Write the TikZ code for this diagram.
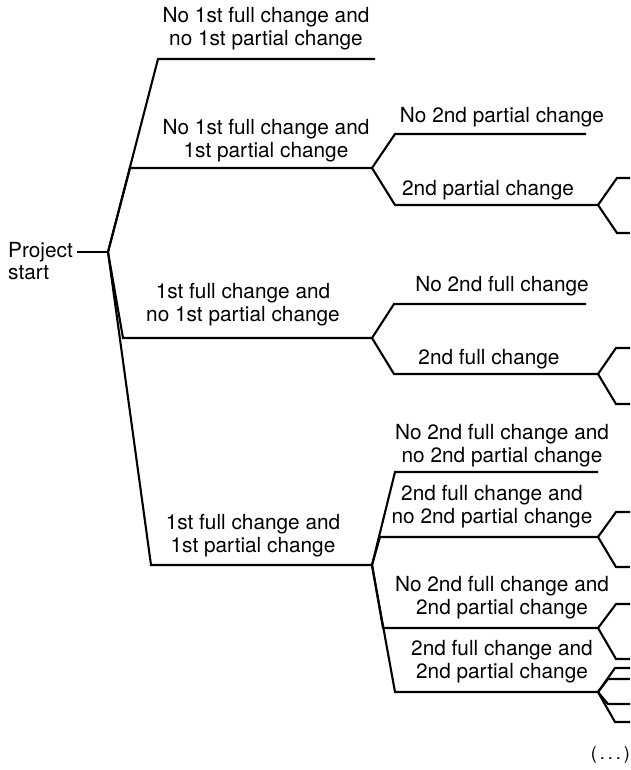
\documentclass[tikz,border=0pt]{standalone}
\usepackage{fontspec}
\setmainfont{TeX Gyre Heros}
\begin{document}
\begin{tikzpicture}[x=1pt,y=-1pt,
  edge/.style={line width=2.1pt, line join=miter},
  txt/.style={font=\fontsize{20.8}{22.5}\selectfont, inner sep=0pt},
  lab/.style={txt, align=center, anchor=south}]
\useasboundingbox (0,0) rectangle (630,770);

% root
\node[txt, align=left, anchor=north west] (root) at (8,242) {Project\\start};
\coordinate (rs) at (77,252);
\coordinate (r) at (108,252);
\draw[edge] (rs) -- (r);

% first stage: four outcomes
\coordinate (a1) at (158,59);  \coordinate (a1e) at (375,59);
\coordinate (a2) at (130,168); \coordinate (b) at (372,168);
\coordinate (a3) at (123,338); \coordinate (c) at (372,338);
\coordinate (a4) at (151,565); \coordinate (d) at (372,565);
\draw[edge] (r) -- (a1) -- (a1e);
\draw[edge] (r) -- (a2) -- (b);
\draw[edge] (r) -- (a3) -- (c);
\draw[edge] (r) -- (a4) -- (d);

\node[lab] (l1) at (266,50) {No 1st full change and\\no 1st partial change};
\node[lab] (l2) at (266,162) {No 1st full change and\\1st partial change};
\node[lab] (l3) at (243,326) {1st full change and\\no 1st partial change};
\node[lab] (l4) at (253,557) {1st full change and\\1st partial change};

% second stage after a partial change
\coordinate (b1) at (395,134); \coordinate (b1e) at (586,134);
\coordinate (b2) at (395,205); \coordinate (bb) at (598,205);
\draw[edge] (b) -- (b1) -- (b1e);
\draw[edge] (b) -- (b2) -- (bb);
\coordinate (bbu) at (617,178); \coordinate (bbue) at (630,178);
\coordinate (bbd) at (617,233); \coordinate (bbde) at (630,233);
\draw[edge] (bb) -- (bbu) -- (bbue);
\draw[edge] (bb) -- (bbd) -- (bbde);
\node[lab] (m1) at (502,127) {No 2nd partial change};
\node[lab] (m2) at (488,200) {2nd partial change};

% second stage after a full change
\coordinate (c1) at (394,304); \coordinate (c1e) at (586,304);
\coordinate (c2) at (394,374); \coordinate (cc) at (598,374);
\draw[edge] (c) -- (c1) -- (c1e);
\draw[edge] (c) -- (c2) -- (cc);
\coordinate (ccu) at (616,348); \coordinate (ccue) at (630,348);
\coordinate (ccd) at (616,404); \coordinate (ccde) at (630,404);
\draw[edge] (cc) -- (ccu) -- (ccue);
\draw[edge] (cc) -- (ccd) -- (ccde);
\node[lab] (m3) at (502,296) {No 2nd full change};
\node[lab] (m4) at (489,369) {2nd full change};

% second stage after both changes
\coordinate (d1) at (395,472); \coordinate (d1e) at (598,472);
\coordinate (d2) at (380,537); \coordinate (dd2) at (598,537);
\coordinate (d3) at (383,628); \coordinate (dd3) at (598,628);
\coordinate (d4) at (395,692); \coordinate (dd4) at (598,692);
\draw[edge] (d) -- (d1) -- (d1e);
\draw[edge] (d) -- (d2) -- (dd2);
\draw[edge] (d) -- (d3) -- (dd3);
\draw[edge] (d) -- (d4) -- (dd4);

% stubs of the third stage
\foreach \n/\cy/\cx in {dd2/512/616, dd2/567/616,
                        dd3/604/616, dd3/659/616,
                        dd4/668/615, dd4/679/608,
                        dd4/704/608, dd4/722/615}
  \draw[edge] (\n) -- (\cx,\cy) -- (630,\cy);

\node[lab] (m5) at (502,467) {No 2nd full change and\\no 2nd partial change};
\node[lab] (m6) at (492,528) {2nd full change and\\no 2nd partial change};
\node[lab] (m7) at (502,619) {No 2nd full change and\\2nd partial change};
\node[lab] (m8) at (502,683) {2nd full change and\\2nd partial change};

\node[inner sep=0pt, anchor=east, font=\fontsize{18}{20}\selectfont] (more) at (630,755) {(\,.\,.\,.\,)};
\end{tikzpicture}
\end{document}
